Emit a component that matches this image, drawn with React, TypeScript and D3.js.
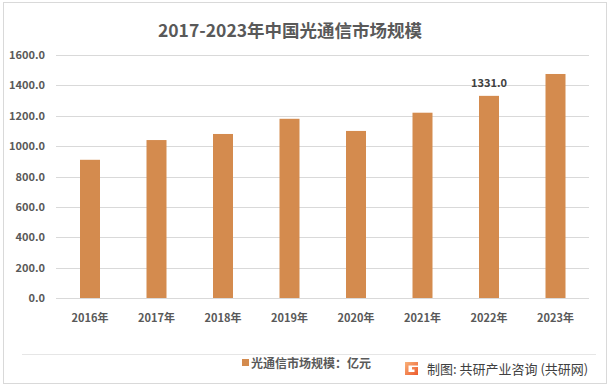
import React from "react";
import * as d3 from "d3";

const categories = ["2016年", "2017年", "2018年", "2019年", "2020年", "2021年", "2022年", "2023年"];
const values = [910, 1040, 1080, 1180, 1100, 1220, 1331, 1475];
const yTicks = [0, 200, 400, 600, 800, 1000, 1200, 1400, 1600];
const labeledCategory = "2022年";
const title = "2017-2023年中国光通信市场规模";
const legendLabel = "光通信市场规模：亿元";
const sourceLabel = "制图: 共研产业咨询 (共研网)";

const W = 611;
const H = 389;
const FONT = "'Noto Sans CJK SC', 'Noto Sans', sans-serif";

export default function App() {
  const x = d3.scaleBand<string>().domain(categories).range([56.75, 588.75]).paddingInner(0.7).paddingOuter(0.35);
  const y = d3.scaleLinear().domain([0, 1600]).range([298, 55]);
  const bw = 20;

  return (
    <svg
      width={W}
      height={H}
      style={{ position: "absolute", left: 0, top: 0, background: "#fff" }}
      fontFamily={FONT}
    >
      <defs>
        <linearGradient id="logoGrad" x1="0" y1="0" x2="1" y2="1">
          <stop offset="0%" stopColor="#f9b27a" />
          <stop offset="100%" stopColor="#ec5a2c" />
        </linearGradient>
      </defs>
      <rect x={3.5} y={2.5} width={603} height={381} fill="#fff" stroke="#d9d9d9" strokeWidth={1} />
      <text x={290} y={37} textAnchor="middle" fontSize={17.5} fontWeight="bold" fill="#595959">
        {title}
      </text>
      {yTicks.map((t) => (
        <g key={t}>
          <line x1={56} x2={589} y1={Math.round(y(t)) + 0.5} y2={Math.round(y(t)) + 0.5} stroke="#d9d9d9" strokeWidth={1} />
          <text x={45} y={y(t) + 4} textAnchor="end" fontSize={11} fontWeight="bold" fill="#595959">
            {d3.format(".1f")(t)}
          </text>
        </g>
      ))}
      {categories.map((c, i) => {
        const cx = (x(c) as number) + x.bandwidth() / 2;
        return (
          <g key={c}>
            <rect x={cx - bw / 2} y={y(values[i])} width={bw} height={y(0) - y(values[i])} fill="#d48b4e" />
            <text x={cx} y={322} textAnchor="middle" fontSize={11} fontWeight="bold" fill="#595959">
              {c}
            </text>
            {c === labeledCategory && (
              <text x={cx} y={y(values[i]) - 9} textAnchor="middle" fontSize={11} fontWeight="bold" fill="#404040">
                {d3.format(".1f")(values[i])}
              </text>
            )}
          </g>
        );
      })}
      <line x1={22} x2={596} y1={354.5} y2={354.5} stroke="#e6e6e6" strokeWidth={1} />
      <rect x={242} y={359} width={7} height={7} fill="#d48b4e" />
      <text x={251} y={367.5} fontSize={12} fontWeight="bold" fill="#595959">
        {legendLabel}
      </text>
      <g transform="translate(405,362)">
        <path d="M0,0 H13 V3.5 H3.5 V10 H9.5 V7.5 H7 V5 H13 V13 H0 Z" fill="url(#logoGrad)" />
      </g>
      <text x={427} y={373.5} fontSize={13} fill="#404040">
        {sourceLabel}
      </text>
    </svg>
  );
}
